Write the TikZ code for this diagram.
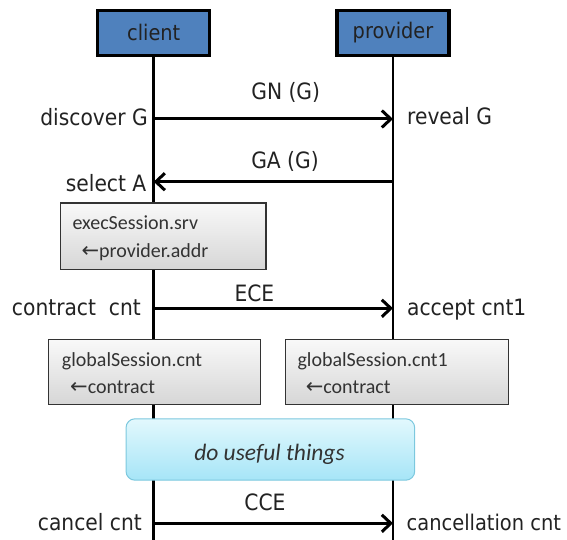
\documentclass[tikz,border=0pt]{standalone}
\usepackage{fontspec}
\usetikzlibrary{arrows.meta}
\setmainfont{DejaVu Sans Condensed}
\newfontfamily\boxfont{Carlito}
\newfontfamily\symfont{DejaVu Sans}

\definecolor{headblue}{HTML}{4F81BD}
\definecolor{usefulline}{HTML}{7CC8DE}
\definecolor{usefultop}{HTML}{E2F8FD}
\definecolor{usefulbot}{HTML}{A6E5F7}
\definecolor{inkgray}{HTML}{222222}

\tikzset{
  head/.style={draw=black, line width=3.3pt, fill=headblue, inner sep=0pt,
    minimum width=112pt, minimum height=44.7pt, text=inkgray,
    font=\fontsize{21.5}{26}\selectfont},
  life/.style={line width=2.8pt},
  msg/.style={line width=3pt,
    -{Straight Barb[length=9pt,width=17pt,line width=3pt]}},
  lbl/.style={inner sep=0pt, text=inkgray, font=\fontsize{22.5}{27}\selectfont},
  actbox/.style={draw=black!80, line width=1.4pt, top color=gray!5,
    bottom color=gray!32, inner sep=0pt},
  boxtxt/.style={inner sep=0pt, text=black!80,
    font=\boxfont\fontsize{20}{24}\selectfont},
  usefulbox/.style={draw=usefulline, line width=1pt, rounded corners=9pt,
    top color=usefultop, bottom color=usefulbot, inner sep=0pt},
}
\newcommand{\larr}{{\symfont\fontsize{21}{24}\selectfont ←}}

\begin{document}
\begin{tikzpicture}[x=1pt, y=-1pt]
\useasboundingbox (0,0) rectangle (567,540);

% lifeline heads
\node[head] (client) at (153.7,32.9) {client};
\node[head] (provider) at (393,32.9) {provider};

% lifeline ends
\coordinate (cend) at (153.7,540);
\coordinate (pend) at (393,540);
\draw[life] (client.south) -- (cend);
\draw[life] (provider.south) -- (pend);

% message anchor points on the lifelines
\coordinate (c1) at (153.7,119);
\coordinate (p1) at (393,119);
\coordinate (c2) at (153.7,181.7);
\coordinate (p2) at (393,181.7);
\coordinate (c3) at (153.7,308.3);
\coordinate (p3) at (393,308.3);
\coordinate (c4) at (153.7,523.3);
\coordinate (p4) at (393,523.3);

% discovery
\draw[msg] (c1) -- (p1);
\node[lbl, anchor=base] (gn) at (285.7,100) {GN (G)};
\node[lbl, anchor=base east] (discover) at (148,126) {discover G};
\node[lbl, anchor=base west] (reveal) at (407,125) {reveal G};

% answer
\draw[msg] (p2) -- (c2);
\node[lbl, anchor=base] (ga) at (285,168) {GA (G)};
\node[lbl, anchor=base east] (select) at (146.5,191) {select A};

% session binding
\node[actbox, minimum width=205.4pt, minimum height=66.3pt] (exec) at (163.1,236.15) {};
\node[boxtxt, anchor=base west] (exectxt) at (72.3,229.3) {execSession.srv};
\node[boxtxt, anchor=base west] (addrtxt) at (81.4,257) {\larr provider.addr};

% contract establishment
\draw[msg] (c3) -- (p3);
\node[lbl, anchor=base] (ece) at (254.4,301.5) {ECE};
\node[lbl, anchor=base east] (contract) at (141,315) {contract\ \ cnt};
\node[lbl, anchor=base west] (accept) at (407,315) {accept cnt1};

% global session state
\node[actbox, minimum width=212pt, minimum height=64.6pt] (gsc) at (154.35,372) {};
\node[actbox, minimum width=223.2pt, minimum height=64.6pt] (gsp) at (396.9,372) {};
\node[boxtxt, anchor=base west] (gsctxt) at (61.7,366) {globalSession.cnt};
\node[boxtxt, anchor=base west] (gscarr) at (70,393.3) {\larr contract};
\node[boxtxt, anchor=base west] (gsptxt) at (297.3,366) {globalSession.cnt1};
\node[boxtxt, anchor=base west] (gsparr) at (305.6,393.3) {\larr contract};

% work phase
\node[usefulbox, minimum width=288.7pt, minimum height=61.4pt] (useful) at (270.35,449.5) {};
\node[inner sep=0pt, anchor=base, text=black!80,
  font=\boxfont\itshape\fontsize{23.5}{28}\selectfont] (usefultxt) at (269.5,460) {do useful things};

% cancellation
\draw[msg] (c4) -- (p4);
\node[lbl, anchor=base] (cce) at (265,510.5) {CCE};
\node[lbl, anchor=base east] (cancel) at (142,530) {cancel cnt};
\node[lbl, anchor=base west, font=\fontsize{21.6}{26}\selectfont] (cancellation) at (406.5,530) {cancellation cnt};
\end{tikzpicture}
\end{document}
